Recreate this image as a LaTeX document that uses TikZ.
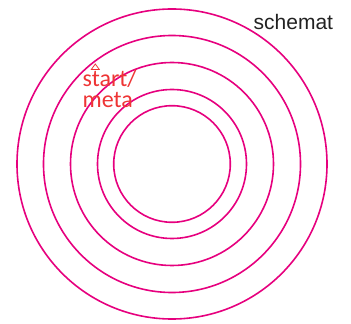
\documentclass[tikz,border=0pt]{standalone}
\usepackage{fontspec}
\setmainfont{Liberation Sans}
\newfontfamily\labelfont{Carlito}
\usepackage{tikz}
\usetikzlibrary{positioning}
\definecolor{ringcolor}{HTML}{E6007E}
\definecolor{markcolor}{HTML}{EE3535}
\definecolor{titlecolor}{HTML}{222222}

\begin{document}
\begin{tikzpicture}[x=1pt, y=1pt,
    ring/.style={draw=ringcolor, line width=1.6pt},
    title/.style={inner sep=0pt, anchor=base west, text=titlecolor, font=\fontsize{21}{24}\selectfont},
    marklabel/.style={inner sep=0pt, anchor=base west, align=left, text=markcolor, font=\labelfont\fontsize{24}{20.5}\selectfont},
    marker/.style={draw=markcolor, line width=0.8pt, line join=miter}
]
\useasboundingbox (0,0) rectangle (351,324);

% Concentric rings
\coordinate (centre) at (172,160);
\foreach \r in {155,128.5,101.5,74.5,58.3}
    \draw[ring] (centre) circle (\r);

% Start / finish mark
\coordinate (tipl) at (91.3,254.5);
\coordinate (tipr) at (99.3,254.5);
\coordinate (tipt) at (95.3,260);
\draw[marker] (tipl) -- (tipr) -- (tipt) -- cycle;
\node[marklabel] (start) at (82.5,216.7) {start/\\meta};

% Title
\node[title] (name) at (253.5,294.7) {schemat};
\end{tikzpicture}
\end{document}
